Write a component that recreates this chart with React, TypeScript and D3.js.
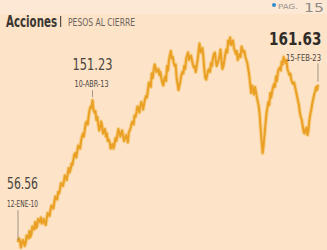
import React from "react";
import * as d3 from "d3";

// precio de cierre (aprox. quincenal), 12-ene-2010 a 15-feb-2023
const startDate = "2010-01-12";
const endDate = "2023-02-15";
const closes = [
  56.56, 59, 58, 53, 55, 58, 57, 54, 56, 61, 60, 59, 64, 60, 62, 67, 66, 65, 70, 66, 67, 72, 71, 70,
  73, 69, 70, 72, 69, 68, 72, 76, 75, 74, 78, 81, 80, 79, 83, 87, 86, 85, 90, 89, 92, 96, 95, 94,
  97, 101, 100, 98, 102, 106, 103, 105, 109, 108, 112, 115, 116, 113, 117, 121, 120, 119, 124, 127, 129, 127, 132, 136,
  137, 135, 141, 145, 147, 146, 151.23, 145, 143, 144, 138, 140, 135, 131, 133, 137, 134, 129, 131, 132, 127, 129, 124, 125,
  123, 119, 121, 122, 119, 122, 126, 124, 128, 132, 130, 127, 129, 131, 127, 124, 126, 128, 126, 123, 130, 131, 133, 136,
  137, 135, 141, 140, 143, 147, 146, 143, 147, 150, 148, 145, 149, 152, 154, 153, 158, 163, 162, 160, 169, 166, 171, 175,
  173, 170, 171, 172, 168, 170, 166, 163, 161, 165, 167, 164, 174, 171, 178, 181, 184, 179, 180, 176, 174, 175, 166, 162,
  158, 161, 164, 168, 170, 169, 174, 172, 179, 181, 183, 178, 180, 181, 178, 175, 173, 174, 170, 174, 178, 184, 189, 183,
  185, 186, 180, 172, 166, 165, 168, 171, 172, 170, 176, 174, 179, 182, 183, 178, 174, 176, 178, 181, 185, 177, 172, 174,
  178, 182, 185, 183, 191, 189, 193, 188, 190, 191, 186, 184, 182, 184, 178, 180, 182, 180, 187, 185, 183, 184, 180, 178,
  176, 172, 168, 162, 156, 161, 158, 155, 160, 157, 153, 150, 147, 141, 132, 124, 116, 121, 128, 135, 142, 146, 150, 148,
  156, 153, 157, 160, 162, 160, 167, 164, 170, 172, 173, 171, 177, 175, 180, 178, 176, 178, 172, 170, 168, 169, 165, 163,
  162, 163, 160, 157, 154, 151, 148, 143, 140, 138, 134, 130, 129, 132, 133, 128, 131, 138, 142, 145, 149, 152, 155, 157,
  160, 158, 161.63,
];

const callouts = [
  { index: 0, value: "56.56", date: "12-ENE-10", pos: "left" },
  { index: 78, value: "151.23", date: "10-ABR-13", pos: "top" },
  { index: closes.length - 1, value: "161.63", date: "15-FEB-23", pos: "right" },
];

const font = "'DejaVu Sans Condensed', 'Liberation Sans Narrow', 'DejaVu Sans', sans-serif";

export default function App() {
  const width = 327;
  const height = 250;
  const parse = d3.timeParse("%Y-%m-%d");
  const t0 = parse(startDate) as Date;
  const t1 = parse(endDate) as Date;
  // fechas espaciadas de forma uniforme entre el inicio y el cierre
  const step = d3.scaleLinear().domain([0, closes.length - 1]).range([t0.getTime(), t1.getTime()]);
  const dates = closes.map((_, i) => new Date(step(i)));

  const x = d3.scaleTime().domain([t0, t1]).range([18, 318]);
  const y = d3.scaleLinear().domain([40, 210]).range([267, 12]);

  const line = d3
    .line<number>()
    .x((_, i) => x(dates[i]))
    .y((d) => y(d));
  const path = line(closes) || "";

  return (
    <div style={{ position: "fixed", left: 0, top: 0 }}>
      <svg width={width} height={height} style={{ display: "block" }}>
        <rect width={width} height={height} fill="#fde3c7" />
        <rect width={width} height={14} fill="#fce8d4" />

        {/* encabezado */}
        <text x={6} y={27} fontFamily={font} fontWeight="bold" fontSize={15} fill="#3a3632" textLength={51} lengthAdjust="spacingAndGlyphs">
          Acciones
        </text>
        <rect x={60} y={16} width={1.2} height={11} fill="#55504b" />
        <text x={68} y={25.5} fontFamily={font} fontSize={10} fill="#6b645e" textLength={67} lengthAdjust="spacingAndGlyphs">
          PESOS AL CIERRE
        </text>

        {/* referencia de página */}
        <circle cx={274} cy={5} r={2} fill="#2f8fd0" />
        <text x={278} y={9} fontFamily={font} fontSize={7} fill="#9a948e" textLength={20} lengthAdjust="spacingAndGlyphs">
          PAG.
        </text>
        <text x={304} y={12} fontFamily={font} fontSize={13} fill="#8f8a85" textLength={20} lengthAdjust="spacingAndGlyphs">
          15
        </text>

        <path d={path} fill="none" stroke="#f6c773" strokeWidth={4} strokeLinejoin="round" opacity={0.75} />
        <path d={path} fill="none" stroke="#e9a025" strokeWidth={2} strokeLinejoin="round" />

        {callouts.map((c) => {
          const px = x(dates[c.index]);
          const py = y(closes[c.index]);
          if (c.pos === "left") {
            return (
              <g key={c.date} fill="#4a4540" fontFamily={font}>
                <text x={7} y={py - 53} fontSize={15} textLength={31} lengthAdjust="spacingAndGlyphs">
                  {c.value}
                </text>
                <text x={7} y={py - 35} fontSize={9} textLength={31} lengthAdjust="spacingAndGlyphs">
                  {c.date}
                </text>
                <line x1={px} x2={px} y1={py - 32} y2={py - 2} stroke="#7a7470" strokeWidth={0.7} />
              </g>
            );
          }
          if (c.pos === "top") {
            return (
              <g key={c.date} fill="#4a4540" fontFamily={font}>
                <text x={px - 20} y={py - 30} fontSize={16} textLength={40} lengthAdjust="spacingAndGlyphs">
                  {c.value}
                </text>
                <text x={px - 18} y={py - 13} fontSize={9} textLength={34} lengthAdjust="spacingAndGlyphs">
                  {c.date}
                </text>
                <line x1={px} x2={px} y1={py - 10} y2={py - 3} stroke="#7a7470" strokeWidth={0.7} />
              </g>
            );
          }
          return (
            <g key={c.date} fontFamily={font}>
              <text
                transform={`translate(269,${py - 40}) scale(0.84,1)`}
                fontSize={18}
                fontWeight="bold"
                fill="#2f2b28"
              >
                {c.value}
              </text>
              <text x={286} y={py - 24} fontSize={9} fill="#4a4540" textLength={35} lengthAdjust="spacingAndGlyphs">
                {c.date}
              </text>
              <line x1={px} x2={px} y1={py - 21} y2={py - 3} stroke="#7a7470" strokeWidth={0.7} />
            </g>
          );
        })}
      </svg>
    </div>
  );
}
